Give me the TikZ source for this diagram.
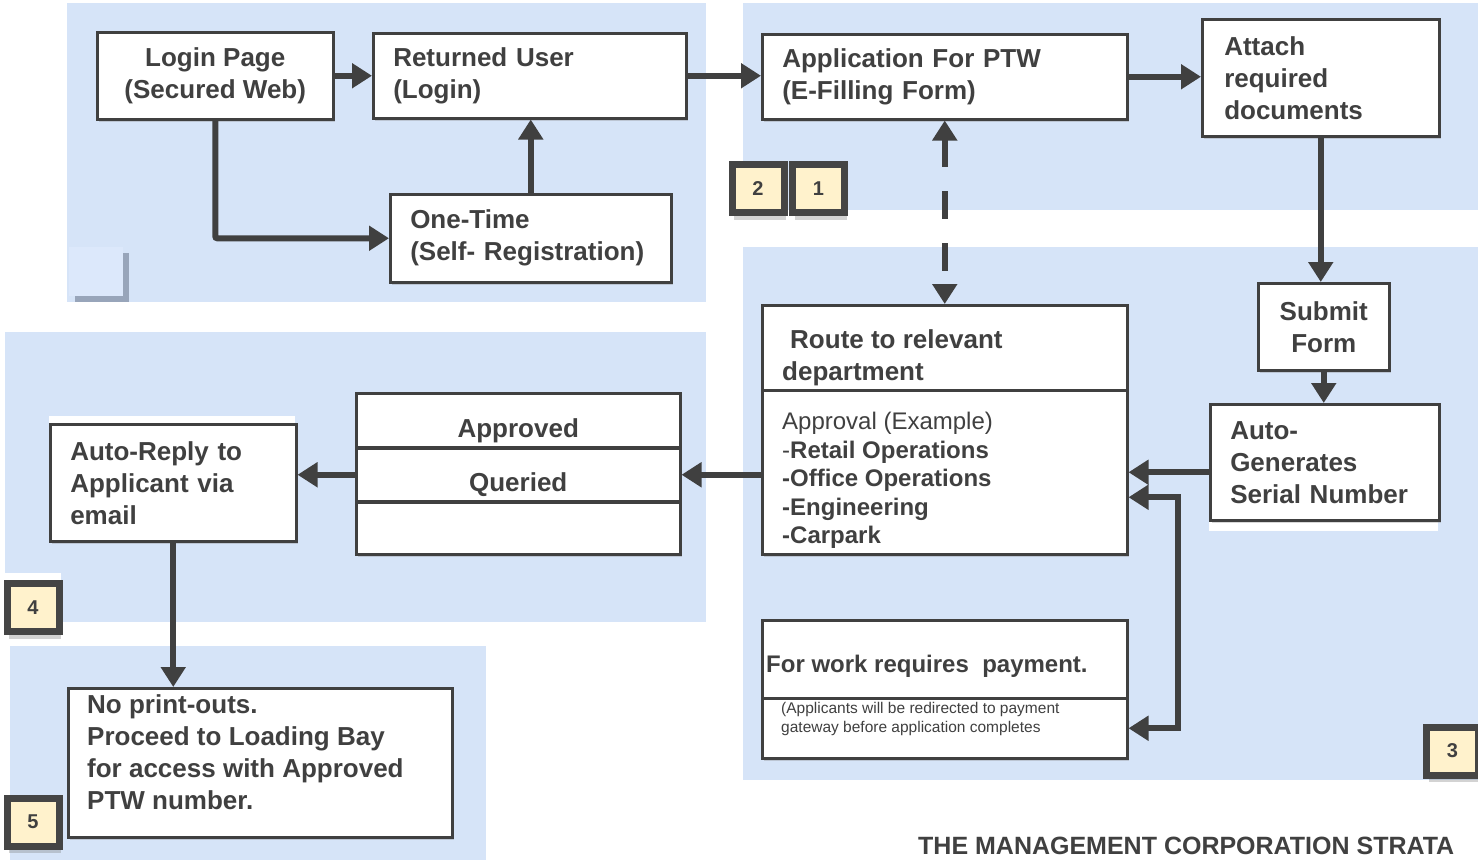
\documentclass[tikz,border=0pt]{standalone}
\usepackage{fontspec}
\setmainfont{Liberation Sans}
\usetikzlibrary{arrows.meta,shadows,calc}
\definecolor{panel}{HTML}{D6E4F8}
\definecolor{sqfill}{HTML}{DCE8FB}
\definecolor{sqshadow}{HTML}{7F8BA0}
\definecolor{ink}{HTML}{404040}
\definecolor{badgeink}{HTML}{454545}
\definecolor{badgefill}{HTML}{FFF2CC}
\tikzset{
  box/.style={draw=ink, line width=2.5pt, fill=white, text=ink, inner sep=0pt,
    anchor=north west, font=\bfseries\fontsize{26}{32}\selectfont,
    drop shadow={shadow xshift=1.5pt, shadow yshift=-3pt, opacity=0.3}},
  txt/.style={text=ink, inner sep=0pt, align=left, anchor=north west,
    font=\bfseries\fontsize{26}{32}\selectfont},
  badge/.style={draw=badgeink, line width=7pt, fill=badgefill, minimum width=52pt,
    minimum height=48pt, inner sep=0pt, text=ink, font=\bfseries\fontsize{20}{24}\selectfont,
    drop shadow={shadow xshift=2pt, shadow yshift=-7pt, opacity=0.35}},
  conn/.style={draw=ink, line width=6pt, -{Triangle[length=20pt,width=24pt]}},
  biconn/.style={draw=ink, line width=6pt,
    {Triangle[length=20pt,width=24pt]}-{Triangle[length=20pt,width=24pt]}},
}
\begin{document}
\begin{tikzpicture}[x=1pt,y=-1pt]
\clip (0,0) rectangle (1478,860);
\useasboundingbox (0,0) rectangle (1478,860);
% background panels
\fill[panel] (67,3) rectangle (706,302);
\fill[panel] (743,3) rectangle (1478,210);
\fill[panel] (743,247) rectangle (1478,780);
\fill[panel] (5,332) rectangle (706,622);
\fill[panel] (10,646) rectangle (486,860);
\fill[white] (49,416) rectangle (295,424);
\fill[white] (1209,518) rectangle (1438,531);
\fill[white] (5,573) rectangle (61,581);

% empty square
\node[fill=sqfill, minimum width=54pt, minimum height=49pt, inner sep=0pt, anchor=north west,
  drop shadow={shadow xshift=6pt, shadow yshift=-6pt, opacity=0.7, fill=sqshadow}] (sq) at (69,247) {};

% boxes
\node[box, align=center, minimum width=236pt, minimum height=87pt] (login) at (96,31) {Login Page\\(Secured Web)};
\node[box, align=left, minimum width=313pt, minimum height=85pt, text width=273pt] (returned) at (372,32) {Returned User\\(Login)};
\node[box, align=left, minimum width=281pt, minimum height=88pt, text width=241pt] (onetime) at (389,193) {One-Time\\(Self- Registration)};
\node[box, align=left, minimum width=365pt, minimum height=85pt, text width=325pt] (app) at (761,33) {Application For PTW\\(E-Filling Form)};
\node[box, align=left, minimum width=237pt, minimum height=117pt, text width=193pt] (attach) at (1201,18) {Attach\\required\\documents};
\node[box, align=center, minimum width=131pt, minimum height=87pt] (submit) at (1257,282) {Submit\\Form};
\node[box, align=left, minimum width=229pt, minimum height=116pt, text width=189pt] (autogen) at (1209,403) {Auto-\\Generates\\Serial Number};
\node[box, minimum width=365pt, minimum height=85pt] (routeH) at (761,304) {};
\node[box, minimum width=365pt, minimum height=164pt] (routeB) at (761,389) {};
\node[box, minimum width=365pt, minimum height=78pt] (payH) at (761,619) {};
\node[box, minimum width=365pt, minimum height=60pt] (payB) at (761,697) {};
\node[box, minimum width=324pt, minimum height=54pt, text height=34pt, text depth=0pt] (appr) at (355,392) {Approved};
\node[box, minimum width=324pt, minimum height=53pt, text height=34pt, text depth=0pt] (quer) at (355,447) {Queried};
\node[box, minimum width=324pt, minimum height=52pt] (blank) at (355,501) {};
\node[box, align=left, minimum width=246pt, minimum height=117pt, text width=206pt] (autoreply) at (49,423) {Auto-Reply to\\Applicant via\\email};
\node[box, minimum width=384pt, minimum height=149pt] (noprint) at (67,687) {};

% texts placed in boxes
\node[txt] (routeHt) at (782,329) {\hspace*{8pt}Route to relevant\\department};
\node[txt, font=\fontsize{24}{28.5}\selectfont] (routeBt) at (782,412)
  {Approval (Example)\\-\textbf{Retail Operations}\\\textbf{-Office Operations}\\\textbf{-Engineering}\\\textbf{-Carpark}};
\node[txt, font=\bfseries\fontsize{24}{28}\selectfont] (payHt) at (766,655) {For work requires\ \ payment.};
\node[txt, font=\fontsize{15.5}{19}\selectfont] (payBt) at (781,702) {(Applicants will be redirected to payment\\gateway before application completes};
\node[txt] (noprintt) at (87,694) {No print-outs.\\Proceed to Loading Bay\\for access with Approved\\PTW number.};

% badges
\node[badge] (b2) at (758,188.5) {2};
\node[badge] (b1) at (818.5,188.5) {1};
\node[badge] (b4) at (33,607.5) {4};
\node[badge] (b5) at (33,822) {5};
\node[badge] (b3) at (1452.5,751) {3};

% connectors
\draw[conn] (login.east) -- (returned.west);
\draw[conn, rounded corners=2pt] (login.south) |- (onetime.west);
\draw[conn] (onetime.north) -- (onetime.north |- returned.south);
\draw[conn] (returned.east) -- (app.west |- returned.east);
\draw[conn] (app.east) -- (app.east -| attach.west);
\draw[conn] (attach.south) -- (attach.south |- submit.north);
\draw[conn] (submit.south) -- (submit.south |- autogen.north);
\draw[conn] (autogen.west |- routeB.east) -- (routeB.east);
\draw[biconn, dash pattern=on 28pt off 24pt] (app.south) -- (routeH.north);
\draw[biconn] ([yshift=-25pt]routeB.east) -- ++(49,0) |- (payB.east);
\draw[conn] (routeB.west |- quer.east) -- (quer.east);
\draw[conn] (quer.west) -- (quer.west -| autoreply.east);
\draw[conn] (autoreply.south) -- (autoreply.south |- noprint.north);

% footer title
\node[anchor=base west, inner sep=0pt, text=ink, font=\bfseries\fontsize{25}{30}\selectfont] (title) at (918,854) {THE MANAGEMENT CORPORATION STRATA};
\end{tikzpicture}
\end{document}
